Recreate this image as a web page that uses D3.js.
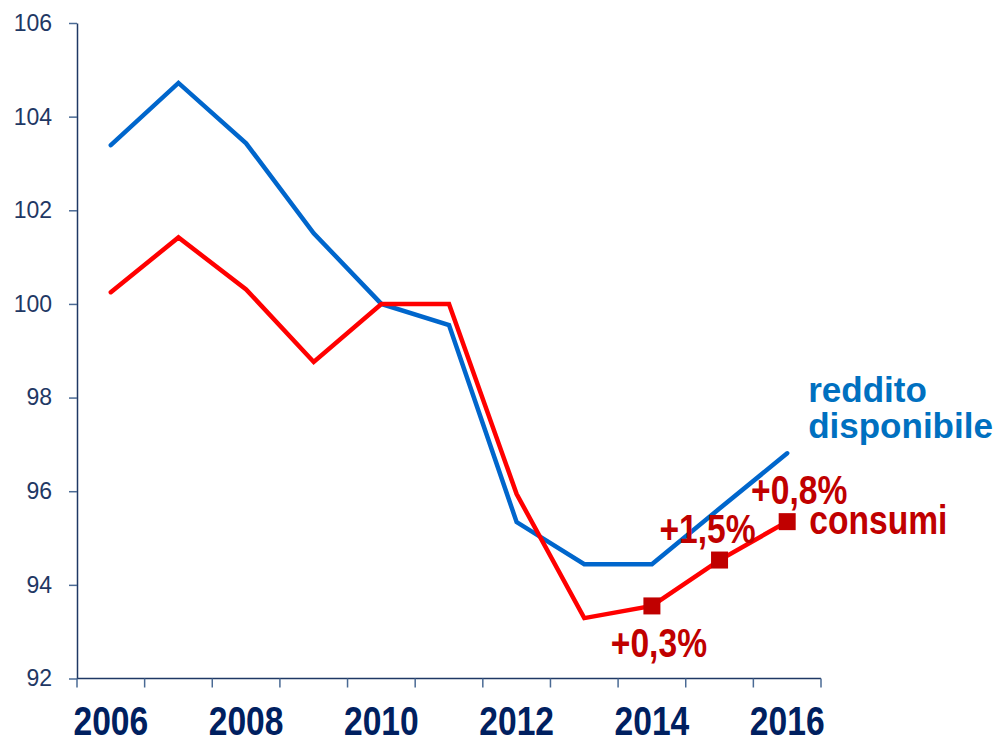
<!DOCTYPE html>
<html>
<head>
<meta charset="utf-8">
<script src="https://cdn.jsdelivr.net/npm/d3@7"></script>
<style>
  body { margin: 0; background: #fff; }
  svg { display: block; }
</style>
</head>
<body>
<div id="chart"></div>
<script>
const years = [2006, 2007, 2008, 2009, 2010, 2011, 2012, 2013, 2014, 2015, 2016];
const redditoValues = [103.39, 104.72, 103.43, 101.51, 100.0, 99.55, 95.34, 94.44, 94.44, 95.63, 96.81];
const consumiValues = [100.25, 101.42, 100.31, 98.76, 100.0, 100.0, 95.94, 93.29, 93.55, 94.53, 95.35];
const markerYears = [2014, 2015, 2016];
const growthLabels = ["+0,3%", "+1,5%", "+0,8%"];
const yTicks = [92, 94, 96, 98, 100, 102, 104, 106];
const xLabelYears = [2006, 2008, 2010, 2012, 2014, 2016];

const width = 993, height = 739;
const navy = "#1f3864";
const narrow = 0.82; // squeeze factor to mimic a condensed bold face

const svg = d3.select("#chart").append("svg")
  .attr("width", width)
  .attr("height", height)
  .attr("font-family", "'Liberation Sans', Arial, sans-serif");

const x = d3.scaleBand().domain(years).range([77, 821]);
const y = d3.scaleLinear().domain([92, 106]).range([678.5, 23]);
const cx = (yr) => x(yr) + x.bandwidth() / 2;

// condensed bold text helper
function narrowText(g, px, py, txt, size, color, anchor) {
  g.append("g")
    .attr("transform", `translate(${px},${py}) scale(${narrow},1)`)
    .append("text")
    .attr("text-anchor", anchor)
    .attr("font-size", size)
    .attr("font-weight", "bold")
    .attr("fill", color)
    .text(txt);
}

// y axis
const yAxis = svg.append("g")
  .attr("transform", "translate(77,0)")
  .call(d3.axisLeft(y).tickValues(yTicks).tickSize(8).tickPadding(17).tickSizeOuter(0));
yAxis.select(".domain").attr("stroke", navy).attr("stroke-width", 1.5);
yAxis.selectAll(".tick line").attr("stroke", "#4a6a94").attr("stroke-width", 1.5);
yAxis.selectAll(".tick text")
  .attr("font-size", 23)
  .attr("font-family", "'Liberation Sans', Arial, sans-serif")
  .attr("fill", navy);

// x axis line and ticks at band edges
const xAxis = svg.append("g");
xAxis.append("line")
  .attr("x1", 77).attr("x2", 821)
  .attr("y1", y(92)).attr("y2", y(92))
  .attr("stroke", navy).attr("stroke-width", 1.5);
const edges = years.map((yr) => x(yr)).concat([x.range()[1]]);
xAxis.selectAll("line.tick").data(edges).join("line")
  .attr("class", "tick")
  .attr("x1", (d) => d).attr("x2", (d) => d)
  .attr("y1", y(92)).attr("y2", y(92) + 9)
  .attr("stroke", "#4a6a94").attr("stroke-width", 1.5);
xLabelYears.forEach((yr) => narrowText(xAxis, cx(yr), 735, yr, 41, "#002060", "middle"));

// lines
const line = d3.line()
  .x((d, i) => cx(years[i]))
  .y((d) => y(d));

svg.append("path")
  .datum(redditoValues)
  .attr("d", line)
  .attr("fill", "none")
  .attr("stroke", "#0066cc")
  .attr("stroke-width", 4.5)
  .attr("stroke-linecap", "round");

svg.append("path")
  .datum(consumiValues)
  .attr("d", line)
  .attr("fill", "none")
  .attr("stroke", "#ff0000")
  .attr("stroke-width", 4.5)
  .attr("stroke-linecap", "round");

// markers on consumi
const markerData = markerYears.map((yr) => ({ yr, v: consumiValues[years.indexOf(yr)] }));
svg.selectAll("rect.marker").data(markerData).join("rect")
  .attr("class", "marker")
  .attr("x", (d) => cx(d.yr) - 8.5)
  .attr("y", (d) => y(d.v) - 8.5)
  .attr("width", 17)
  .attr("height", 17)
  .attr("fill", "#c00000");

// growth labels
const offsets = [[7, 51], [-12, -17], [12, -18]];
const labels = svg.append("g");
markerData.forEach((d, i) => {
  narrowText(labels, cx(d.yr) + offsets[i][0], y(d.v) + offsets[i][1], growthLabels[i], 41, "#c00000", "middle");
});

// series labels
const last = years[years.length - 1];
narrowText(labels, cx(last) + 22, y(consumiValues[consumiValues.length - 1]) + 12, "consumi", 41, "#c00000", "start");

const endBlue = y(redditoValues[redditoValues.length - 1]);
labels.append("text")
  .attr("x", cx(last) + 21)
  .attr("y", endBlue - 51)
  .attr("font-size", 35)
  .attr("font-weight", "bold")
  .attr("fill", "#0070c0")
  .text("reddito");
labels.append("text")
  .attr("x", cx(last) + 21)
  .attr("y", endBlue - 15)
  .attr("font-size", 35)
  .attr("font-weight", "bold")
  .attr("fill", "#0070c0")
  .text("disponibile");
</script>
</body>
</html>
